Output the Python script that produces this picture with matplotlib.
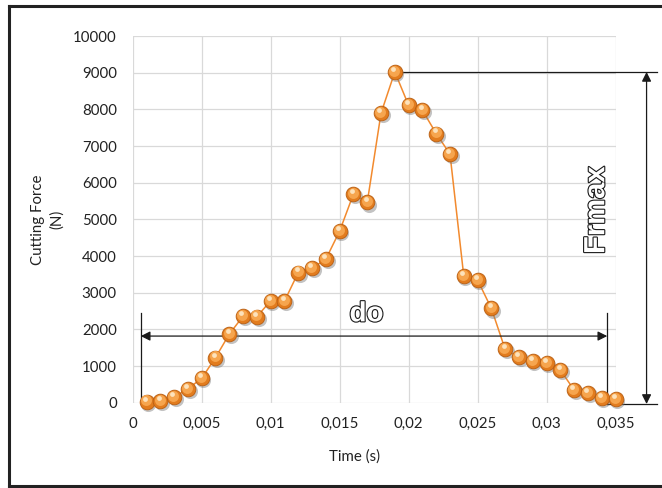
import matplotlib
matplotlib.use('Agg')
import matplotlib.pyplot as plt
import matplotlib.patheffects as pe
import matplotlib.transforms as mtransforms
from matplotlib.lines import Line2D

# measured cutting force vs time
time_s = [0.001, 0.002, 0.003, 0.004, 0.005, 0.006, 0.007, 0.008, 0.009, 0.010,
          0.011, 0.012, 0.013, 0.014, 0.015, 0.016, 0.017, 0.018, 0.019, 0.020,
          0.021, 0.022, 0.023, 0.024, 0.025, 0.026, 0.027, 0.028, 0.029, 0.030,
          0.031, 0.032, 0.033, 0.034, 0.035]
force_n = [30, 50, 150, 380, 665, 1230, 1870, 2360, 2345, 2780,
           2770, 3550, 3670, 3915, 4680, 5690, 5460, 7895, 9020, 8110,
           7975, 7340, 6780, 3450, 3345, 2570, 1455, 1235, 1135, 1075,
           890, 345, 255, 120, 95]

x_ticks = [0, 0.005, 0.01, 0.015, 0.02, 0.025, 0.03, 0.035]
x_ticklabels = ['0', '0,005', '0,01', '0,015', '0,02', '0,025', '0,03', '0,035']
y_ticks = [0, 1000, 2000, 3000, 4000, 5000, 6000, 7000, 8000, 9000, 10000]

# annotation extents (data units)
do_start, do_end, do_level = 0.00058, 0.0344, 1817
frmax_x, frmax_line_end, frmax_base = 0.03725, 0.03804, -35

plt.rcParams['font.family'] = ['Lato', 'DejaVu Sans']

fig = plt.figure(figsize=(6.62, 4.88), dpi=100)
ax = fig.add_axes([0.2005, 0.1748, 0.7293, 0.7514])

ax.set_xlim(0, 0.035)
ax.set_ylim(0, 10000)
ax.set_xticks(x_ticks)
ax.set_xticklabels(x_ticklabels)
ax.set_yticks(y_ticks)
ax.tick_params(length=0, labelsize=10.8, colors='#222222')
ax.tick_params(axis='x', pad=10.5)
ax.tick_params(axis='y', pad=11.5)
for s in ax.spines.values():
    s.set_visible(False)
ax.grid(True, color='#D9D9D9', linewidth=0.9)
ax.set_axisbelow(True)

ax.set_xlabel('Time (s)', fontsize=10.8, color='#222222')
ax.xaxis.set_label_coords(0.46, -0.128)
ax.set_ylabel('Cutting Force\n(N)', fontsize=10.8, color='#222222', linespacing=1.45)
ax.yaxis.set_label_coords(-0.142, 0.5)

# line + "sphere" markers
ax.plot(time_s, force_n, color='#F28A2E', linewidth=1.1, zorder=3, clip_on=False)
shadow = mtransforms.offset_copy(ax.transData, fig=fig, x=1.2, y=-1.5, units='points')
ax.scatter(time_s, force_n, s=118, color='#7a7a7a', alpha=0.45, linewidths=0,
           transform=shadow, zorder=4, clip_on=False)
ax.scatter(time_s, force_n, s=112, color='#E27C1E', edgecolors='#B85E12',
           linewidths=0.6, zorder=5, clip_on=False)
mid = mtransforms.offset_copy(ax.transData, fig=fig, x=-0.5, y=0.9, units='points')
ax.scatter(time_s, force_n, s=62, color='#F6A54E', linewidths=0,
           transform=mid, zorder=6, clip_on=False)
hl = mtransforms.offset_copy(ax.transData, fig=fig, x=-1.2, y=2.2, units='points')
ax.scatter(time_s, force_n, s=12, color='#FCE2BC', linewidths=0,
           transform=hl, zorder=7, clip_on=False)

# dimension lines
peak = max(force_n)
peak_t = time_s[force_n.index(peak)]
lk = dict(color='#1a1a1a', linewidth=0.9, clip_on=False, zorder=2)
ax.plot([do_start, do_start], [frmax_base + 20, 2450], **lk)
ax.plot([do_end, do_end], [frmax_base, 2450], **lk)
ax.plot([do_end, frmax_line_end], [frmax_base, frmax_base], **lk)
ax.plot([peak_t, frmax_line_end], [peak, peak], **lk)

arrow = dict(arrowstyle='<|-|>', color='#1a1a1a', lw=0.9,
             mutation_scale=14, shrinkA=0, shrinkB=0)
ax.annotate('', xy=(do_start, do_level), xytext=(do_end, do_level),
            arrowprops=arrow, annotation_clip=False)
ax.annotate('', xy=(frmax_x, frmax_base), xytext=(frmax_x, peak),
            arrowprops=arrow, annotation_clip=False)

outline = [pe.withStroke(linewidth=1.6, foreground='#1a1a1a')]
ax.text(0.01695, 2410, 'do', ha='center', va='center', fontsize=20,
        fontweight='bold', color='white', path_effects=outline,
        family=['Liberation Sans Narrow', 'Liberation Sans'], zorder=8)
ax.text(0.0336, 5250, 'Frmax', ha='center', va='center', fontsize=21,
        rotation=90, fontweight='bold', color='white', path_effects=outline,
        family=['Liberation Sans Narrow', 'Liberation Sans'], zorder=8, clip_on=False)

# frame around the chart (left, top, bottom)
bk = dict(color='#222222', linewidth=2.2, transform=fig.transFigure)
fig.add_artist(Line2D([9 / 662, 9 / 662], [1 - 6 / 488, 1 - 486 / 488], **bk))
fig.add_artist(Line2D([9 / 662, 1.0], [1 - 6 / 488, 1 - 6 / 488], **bk))
fig.add_artist(Line2D([9 / 662, 1.0], [1 - 486 / 488, 1 - 486 / 488], **bk))

fig.savefig('out.png', dpi=100)
